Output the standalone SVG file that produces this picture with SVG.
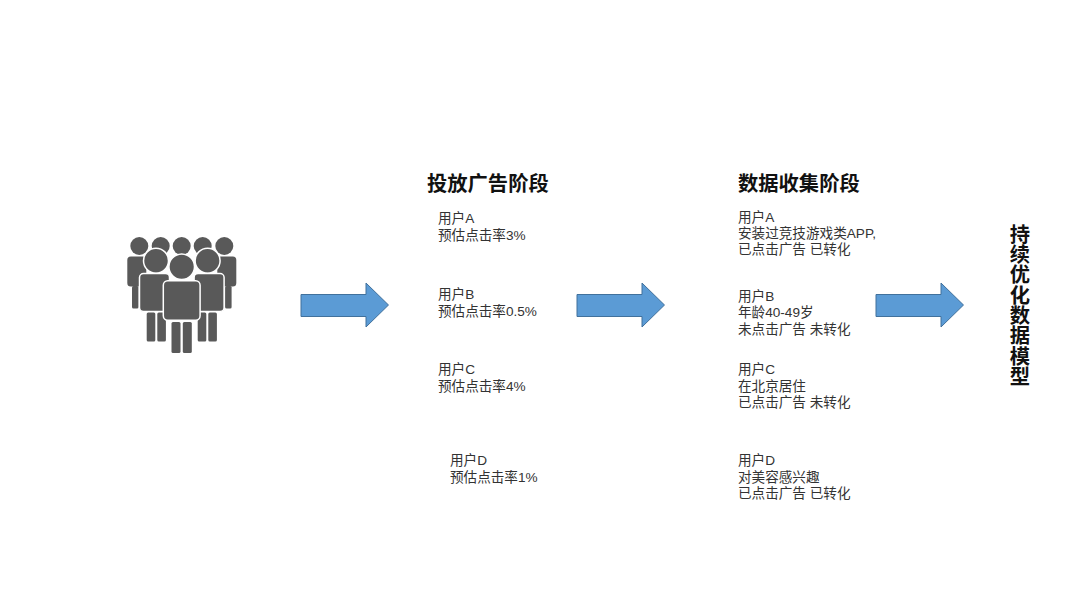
<svg xmlns="http://www.w3.org/2000/svg" width="1080" height="608" viewBox="0 0 1080 608">
<style>
text{font-family:"Liberation Sans","Noto Sans CJK SC",sans-serif}
.t{font-size:20.300px;font-weight:700;fill:#111}
.b{font-size:13.600px;fill:#333}
.p{fill:#595959}
.o{fill:#595959;stroke:#fff;stroke-width:1.5}
.a{fill:#5b9bd5;stroke:#41719c;stroke-width:1}
</style>
<rect width="1080" height="608" fill="#fff"/>
<defs>
<g id="back"><circle class="p" cx="139.3" cy="246" r="9"/><rect class="p" x="127.3" y="256.5" width="19" height="30" rx="3.5"/><rect class="p" x="132" y="286" width="6.5" height="22.5" rx="1.5"/></g>
<g id="mid"><circle class="o" cx="156" cy="260.7" r="12.5"/><rect class="o" x="139.5" y="273.5" width="30" height="38" rx="4"/><rect class="p" x="146.7" y="312.5" width="8.6" height="29" rx="1.5"/><rect class="p" x="157.3" y="312.5" width="8.6" height="29" rx="1.5"/></g>
</defs>
<g id="people">
<circle class="p" cx="160.7" cy="246" r="9"/><circle class="p" cx="181.7" cy="246" r="9"/><circle class="p" cx="202.7" cy="246" r="9"/>
<use href="#back"/>
<use href="#back" transform="matrix(-1 0 0 1 363.6 0)"/>
<use href="#mid"/>
<use href="#mid" transform="matrix(-1 0 0 1 363.6 0)"/>
<circle class="o" cx="181.7" cy="266.7" r="12.8"/>
<rect class="o" x="163.3" y="280.7" width="36.8" height="39.5" rx="4.5"/>
<rect class="p" x="171.5" y="322" width="9" height="31" rx="1.5"/>
<rect class="p" x="182.8" y="322" width="9" height="31" rx="1.5"/>
</g>
<g id="connectors">
<path class="a" d="M301 294.500H366V283L388.500 305L366 327V316.500H301Z"/>
<path class="a" d="M577 294.500H642V283L664.500 305L642 327V316.500H577Z"/>
<path class="a" d="M876 294.500H941V283L963.500 305L941 327V316.500H876Z"/>
</g>
<g id="stage1">
<text class="t" x="427" y="190.500">投放广告阶段</text>
<text class="b"><tspan x="438" y="223">用户A</tspan><tspan x="438" y="239.500">预估点击率3%</tspan></text>
<text class="b"><tspan x="438" y="299">用户B</tspan><tspan x="438" y="315.500">预估点击率0.5%</tspan></text>
<text class="b"><tspan x="438" y="374">用户C</tspan><tspan x="438" y="390.500">预估点击率4%</tspan></text>
<text class="b"><tspan x="450" y="465">用户D</tspan><tspan x="450" y="481.500">预估点击率1%</tspan></text>
</g>
<g id="stage2">
<text class="t" x="738" y="190.500">数据收集阶段</text>
<text class="b"><tspan x="738" y="222">用户A</tspan><tspan x="738" y="238">安装过竞技游戏类APP,</tspan><tspan x="738" y="254">已点击广告 已转化</tspan></text>
<text class="b"><tspan x="738" y="301">用户B</tspan><tspan x="738" y="317">年龄40-49岁</tspan><tspan x="738" y="333.500">未点击广告 未转化</tspan></text>
<text class="b"><tspan x="738" y="374">用户C</tspan><tspan x="738" y="390.500">在北京居住</tspan><tspan x="738" y="407">已点击广告 未转化</tspan></text>
<text class="b"><tspan x="738" y="465">用户D</tspan><tspan x="738" y="481.500">对美容感兴趣</tspan><tspan x="738" y="498">已点击广告 已转化</tspan></text>
</g>
<g id="result">
<text class="t" x="1018" y="224" style="writing-mode:vertical-rl">持续优化数据模型</text>
</g>
</svg>
